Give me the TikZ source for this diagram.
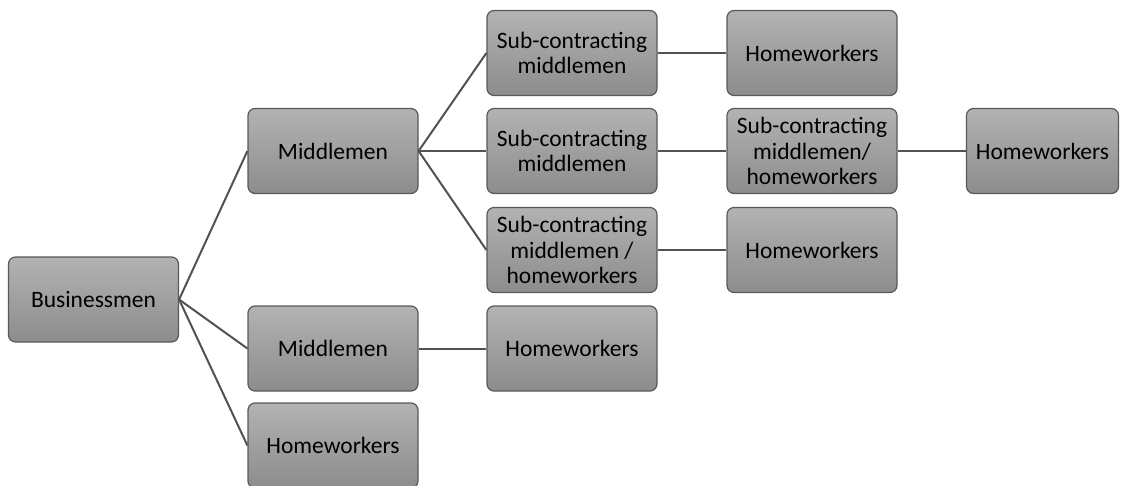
\documentclass[tikz,border=0pt]{standalone}
\usepackage{fontspec}
\setmainfont{Carlito}
\begin{document}
\begin{tikzpicture}[x=1pt,y=-1pt,
  box/.style={draw=black!65, line width=1.2pt, rounded corners=7pt,
    top color=black!30, bottom color=black!45,
    minimum width=170pt, minimum height=85pt, inner sep=2pt, align=center,
    font=\fontsize{23.5}{25.5}\selectfont, text=black},
  link/.style={draw=black!68, line width=2pt}]
\useasboundingbox (0,0) rectangle (1126,486);
\node[box] (b)   at (93.5,299.5) {Businessmen};
\node[box] (m1)  at (333,151) {Middlemen};
\node[box] (m2)  at (333,348.5) {Middlemen};
\node[box] (h1)  at (333,445.5) {Homeworkers};
\node[box] (s1)  at (572,53) {Sub-contracting\\middlemen};
\node[box] (s2)  at (572,151) {Sub-contracting\\middlemen};
\node[box] (s3)  at (572,250) {Sub-contracting\\middlemen /\\homeworkers};
\node[box] (h2)  at (572,348.5) {Homeworkers};
\node[box] (h3)  at (812,53) {Homeworkers};
\node[box] (s4)  at (812,151) {Sub-contracting\\middlemen/\\homeworkers};
\node[box] (h4)  at (812,250) {Homeworkers};
\node[box, minimum width=152pt] (h5) at (1042.5,151) {Homeworkers};
\draw[link] (b.east) -- (m1.west);
\draw[link] (b.east) -- (m2.west);
\draw[link] (b.east) -- (h1.west);
\draw[link] (m1.east) -- (s1.west);
\draw[link] (m1.east) -- (s2.west);
\draw[link] (m1.east) -- (s3.west);
\draw[link] (m2.east) -- (h2.west);
\draw[link] (s1.east) -- (h3.west);
\draw[link] (s2.east) -- (s4.west);
\draw[link] (s3.east) -- (h4.west);
\draw[link] (s4.east) -- (h5.west);
\end{tikzpicture}
\end{document}
